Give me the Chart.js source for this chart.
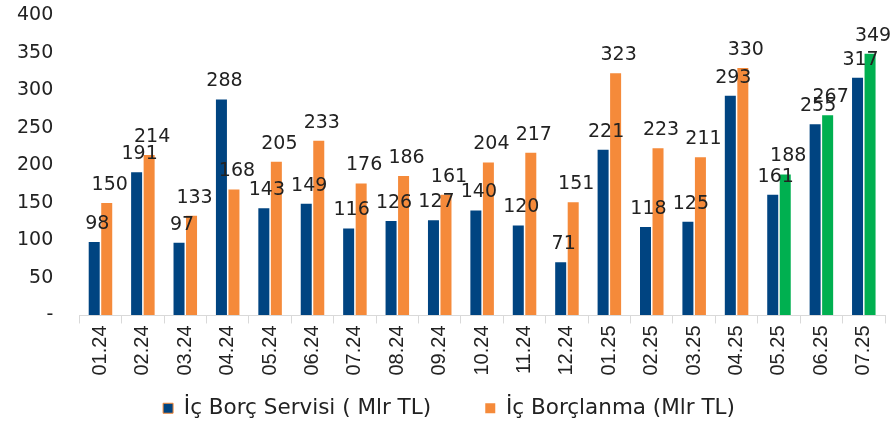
<!DOCTYPE html>
<html>
<head>
<meta charset="utf-8">
<script src="https://cdn.jsdelivr.net/npm/chart.js@4/dist/chart.umd.min.js"></script>
<style>
html,body{margin:0;padding:0;background:#fff}
#wrap{width:893px;height:423px}
</style>
</head>
<body>
<div id="wrap"><canvas id="c"></canvas></div>
<script>
const months=['01.24','02.24','03.24','04.24','05.24','06.24','07.24','08.24','09.24','10.24','11.24','12.24','01.25','02.25','03.25','04.25','05.25','06.25','07.25'];
const borcServisi=[98,191,97,288,143,149,116,126,127,140,120,71,221,118,125,293,161,255,317];
const borclanma=[150,214,133,168,205,233,176,186,161,204,217,151,323,223,211,330,188,267,349];
const yTicks=[0,50,100,150,200,250,300,350,400];

const BLUE='#004481',ORANGE='#F58A3A',GREEN='#00B050';
const FONT='"DejaVu Sans", sans-serif';
const XFONT='"Liberation Sans", Arial, sans-serif';
// son üç ay yeşil
const orangeColors=borclanma.map((v,i)=>i>=months.length-3?GREEN:ORANGE);

// bar üstü değer etiketleri
const valueLabels={
  id:'valueLabels',
  afterDatasetsDraw(chart){
    const ctx=chart.ctx;
    ctx.save();
    ctx.font='19px '+FONT;
    ctx.fillStyle='#222';
    ctx.textAlign='center';
    ctx.textBaseline='alphabetic';
    chart.data.datasets.forEach((ds,di)=>{
      chart.getDatasetMeta(di).data.forEach((bar,i)=>{
        ctx.fillText(ds.data[i],bar.x+3,bar.y-13);
      });
    });
    ctx.restore();
  }
};

new Chart(document.getElementById('c'),{
  type:'bar',
  data:{
    labels:months,
    datasets:[
      {label:'İç Borç Servisi ( Mlr TL)',data:borcServisi,backgroundColor:BLUE,categoryPercentage:0.59,barPercentage:0.88},
      {label:'İç Borçlanma (Mlr TL)',data:borclanma,backgroundColor:orangeColors,categoryPercentage:0.59,barPercentage:0.88}
    ]
  },
  options:{
    responsive:true,maintainAspectRatio:false,animation:false,
    layout:{padding:{top:1,right:8,left:13,bottom:-6}},
    plugins:{
      tooltip:{enabled:false},
      legend:{
        position:'bottom',
        labels:{
          font:{family:FONT,size:21.5},color:'#222',boxWidth:10,boxHeight:10,padding:20,
          generateLabels(chart){
            return chart.data.datasets.map((ds,i)=>({
              text:i===0?ds.label+'     ':ds.label,fillStyle:i===0?BLUE:ORANGE,strokeStyle:ORANGE,lineWidth:i===0?1:0,
              datasetIndex:i,hidden:false,fontColor:'#222'
            }));
          }
        }
      }
    },
    scales:{
      x:{
        grid:{display:true,drawOnChartArea:false,offset:true,color:'#d9d9d9',tickLength:8},
        border:{color:'#d9d9d9'},
        ticks:{font:{family:XFONT,size:20},color:'#222',minRotation:90,maxRotation:90,padding:2}
      },
      y:{
        min:0,max:400,
        afterBuildTicks(axis){axis.ticks=yTicks.map(v=>({value:v}));},
        grid:{display:true,drawOnChartArea:false,color:'rgba(0,0,0,0)',tickLength:22},
        border:{display:false},
        ticks:{font:{family:FONT,size:19},color:'#222',padding:4,callback:v=>v===0?'-':v}
      }
    }
  },
  plugins:[valueLabels]
});
</script>
</body>
</html>
